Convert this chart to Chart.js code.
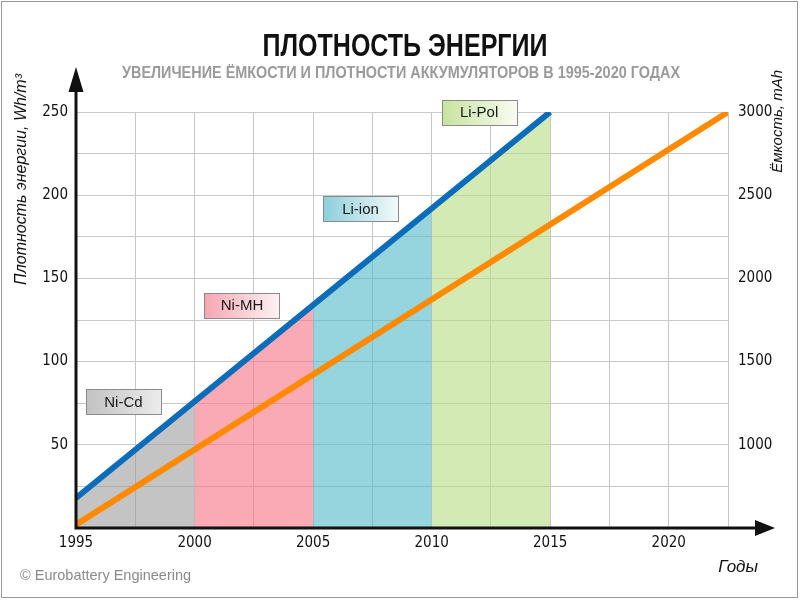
<!DOCTYPE html>
<html>
<head>
<meta charset="utf-8">
<script src="https://cdn.jsdelivr.net/npm/chart.js@4"></script>
<style>
  body { margin: 0; background: #fff; }
  canvas { display: block; }
</style>
</head>
<body>
<canvas id="chart" width="800" height="600"></canvas>
<script>
// Данные графика
const years = [1995, 2000, 2005, 2010, 2015];
const densityWh = [18, 76, 134, 192, 250];          // плотность энергии, Wh/m3
const capacityYears = [1995, 2022.5];
const capacityMah = [520, 3000];                    // ёмкость, mAh
const batteryTypes = ['Ni-Cd', 'Ni-MH', 'Li-ion', 'Li-Pol'];
const xTicks = [1995, 2000, 2005, 2010, 2015, 2020];
const yTicks = [50, 100, 150, 200, 250];
const y2Ticks = [1000, 1500, 2000, 2500, 3000];

const FONT = "'DejaVu Sans Condensed', 'Liberation Sans', sans-serif";
const FONT_REG = "'Liberation Sans', Arial, sans-serif";

const fillColors = [
  'rgba(157,157,157,0.6)',
  'rgba(247,113,130,0.6)',
  'rgba(80,183,200,0.6)',
  'rgba(183,220,130,0.6)',
];
const boxGrad = [
  ['#c2c2c2', '#ececec'],
  ['#f7a6b2', '#fdf2f4'],
  ['#8ccfdb', '#f2fafb'],
  ['#c6e39e', '#f9fcf2'],
];

// области под синей линией для каждого типа аккумулятора
const areaSets = batteryTypes.map((name, i) => ({
  label: name,
  data: [
    { x: years[i], y: densityWh[i] },
    { x: years[i + 1], y: densityWh[i + 1] },
  ],
  yAxisID: 'y',
  fill: 'origin',
  backgroundColor: fillColors[i],
  borderWidth: 0,
  pointRadius: 0,
  order: 10,
}));

// узкий текст: обычный шрифт, сжатый по ширине
function narrowText(ctx, text, cx, cy, width) {
  const w = ctx.measureText(text).width;
  ctx.save();
  ctx.translate(cx, cy);
  ctx.scale(width / w, 1);
  ctx.textAlign = 'center';
  ctx.fillText(text, 0, 0);
  ctx.restore();
}

const decor = {
  id: 'decor',
  beforeDraw(chart) {
    const { ctx } = chart;
    ctx.save();
    ctx.fillStyle = '#fff';
    ctx.fillRect(0, 0, chart.width, chart.height);
    ctx.restore();
  },
  afterDatasetsDraw(chart) {
    const { ctx, chartArea: a, scales } = chart;
    ctx.save();

    // подписи типов аккумуляторов
    batteryTypes.forEach((name, i) => {
      const cx = scales.x.getPixelForValue(years[i] + 2);
      const cy = scales.y.getPixelForValue(densityWh[i + 1]);
      const w = 75, h = 25;
      const x0 = Math.round(cx - w / 2) + 0.5, y0 = Math.round(cy - h / 2) + 0.5;
      const g = ctx.createLinearGradient(x0, 0, x0 + w, 0);
      g.addColorStop(0, boxGrad[i][0]);
      g.addColorStop(1, boxGrad[i][1]);
      ctx.fillStyle = g;
      ctx.fillRect(x0, y0, w, h);
      ctx.strokeStyle = '#8a8a8a';
      ctx.lineWidth = 1;
      ctx.strokeRect(x0, y0, w, h);
      ctx.fillStyle = '#1a1a1a';
      ctx.font = '15px ' + FONT_REG;
      ctx.textAlign = 'center';
      ctx.textBaseline = 'middle';
      ctx.fillText(name, cx, cy + 1);
    });

    // оси со стрелками
    ctx.strokeStyle = '#111';
    ctx.fillStyle = '#111';
    ctx.lineWidth = 3;
    ctx.beginPath();
    ctx.moveTo(a.left, a.bottom + 1.5);
    ctx.lineTo(a.left, a.top - 22);
    ctx.moveTo(a.left - 1.5, a.bottom);
    ctx.lineTo(a.right + 30, a.bottom);
    ctx.stroke();
    ctx.beginPath();
    ctx.moveTo(a.left, a.top - 45);
    ctx.lineTo(a.left - 7.5, a.top - 20);
    ctx.lineTo(a.left + 7.5, a.top - 20);
    ctx.closePath();
    ctx.fill();
    ctx.beginPath();
    ctx.moveTo(a.right + 47, a.bottom);
    ctx.lineTo(a.right + 27, a.bottom - 8);
    ctx.lineTo(a.right + 27, a.bottom + 8);
    ctx.closePath();
    ctx.fill();

    // заголовки
    ctx.textBaseline = 'middle';
    ctx.fillStyle = '#111';
    ctx.font = 'bold 32px ' + FONT_REG;
    narrowText(ctx, 'ПЛОТНОСТЬ ЭНЕРГИИ', 405, 47, 285);
    ctx.fillStyle = '#9a9a9a';
    ctx.font = 'bold 16px ' + FONT_REG;
    narrowText(ctx, 'УВЕЛИЧЕНИЕ ЁМКОСТИ И ПЛОТНОСТИ АККУМУЛЯТОРОВ В 1995-2020 ГОДАХ', 401, 74, 558);

    // подписи осей
    ctx.fillStyle = '#111';
    ctx.font = 'italic 16px ' + FONT_REG;
    ctx.save();
    ctx.translate(22, 74);
    ctx.rotate(-Math.PI / 2);
    ctx.textAlign = 'right';
    ctx.fillText('Плотность энергии, Wh/m³', 0, 0);
    ctx.restore();
    ctx.font = 'italic 15px ' + FONT_REG;
    ctx.save();
    ctx.translate(778, 70);
    ctx.rotate(-Math.PI / 2);
    ctx.textAlign = 'right';
    ctx.fillText('Ёмкость, mAh', 0, 0);
    ctx.restore();
    ctx.font = 'italic 17px ' + FONT_REG;
    ctx.textAlign = 'right';
    ctx.fillText('Годы', 758, 567);

    ctx.fillStyle = '#8a8a8a';
    ctx.font = '14.5px ' + FONT_REG;
    ctx.textAlign = 'left';
    ctx.fillText('© Eurobattery Engineering', 20, 576);

    // рамка
    ctx.strokeStyle = '#9a9a9a';
    ctx.lineWidth = 1;
    ctx.strokeRect(1.5, 1.5, 796, 596);
    ctx.restore();
  },
};

new Chart(document.getElementById('chart'), {
  type: 'line',
  data: {
    datasets: [
      {
        label: 'Плотность энергии',
        data: years.map((x, i) => ({ x, y: densityWh[i] })),
        yAxisID: 'y',
        borderColor: '#0b6dba',
        borderWidth: 6,
        pointRadius: 0,
        fill: false,
        order: 1,
      },
      {
        label: 'Ёмкость',
        data: capacityYears.map((x, i) => ({ x, y: capacityMah[i] })),
        yAxisID: 'y2',
        borderColor: '#ff8a00',
        borderWidth: 6,
        pointRadius: 0,
        fill: false,
        order: 2,
      },
      ...areaSets,
    ],
  },
  options: {
    responsive: false,
    animation: false,
    layout: { padding: { top: 112, left: 0, right: 0, bottom: 0 } },
    plugins: {
      legend: { display: false },
      tooltip: { enabled: false },
    },
    scales: {
      x: {
        type: 'linear',
        min: 1995,
        max: 2022.5,
        ticks: {
          stepSize: 2.5,
          autoSkip: false,
          maxRotation: 0,
          padding: 6,
          color: '#111',
          font: { family: FONT, size: 15 },
          callback: v => (xTicks.includes(v) ? String(v) : ''),
        },
        grid: { color: '#c8c8c8', lineWidth: 1, drawTicks: false },
        border: { display: false },
        afterFit: s => { s.height = 72; },
      },
      y: {
        position: 'left',
        min: 0,
        max: 250,
        ticks: {
          stepSize: 25,
          padding: 8,
          color: '#111',
          font: { family: FONT, size: 15 },
          callback: v => (yTicks.includes(v) ? String(v) : ''),
        },
        grid: { color: '#c8c8c8', lineWidth: 1, drawTicks: false },
        border: { display: false },
        afterFit: s => { s.width = 76; },
      },
      y2: {
        position: 'right',
        min: 500,
        max: 3000,
        ticks: {
          stepSize: 500,
          padding: 10,
          color: '#111',
          font: { family: FONT, size: 15 },
          callback: v => (y2Ticks.includes(v) ? String(v) : ''),
        },
        grid: { display: false, drawTicks: false },
        border: { display: false },
        afterFit: s => { s.width = 72; },
      },
    },
  },
  plugins: [decor],
});
</script>
</body>
</html>
